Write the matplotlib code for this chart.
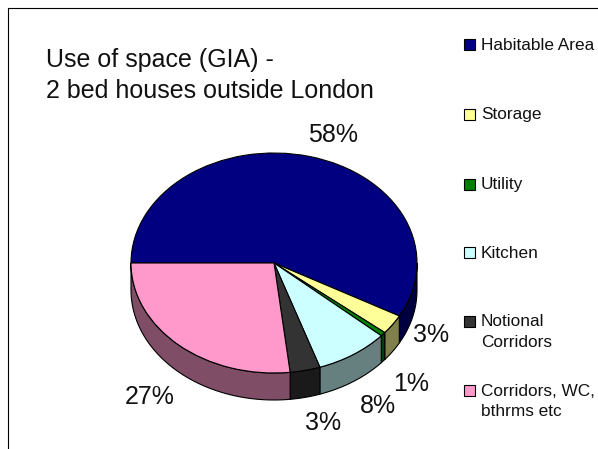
#!/usr/bin/env python3
import numpy as np
import matplotlib
matplotlib.use('Agg')
import matplotlib.pyplot as plt
from matplotlib.patches import Rectangle
from matplotlib.colors import to_rgb

plt.rcParams['font.family'] = ['Liberation Sans', 'DejaVu Sans']

W, H = 598, 449

# data
labels = ['Habitable Area', 'Storage', 'Utility', 'Kitchen',
          'Notional\nCorridors', 'Corridors, WC,\nbthrms etc']
values = [58.0, 2.9, 0.6, 8.3, 3.4, 26.8]
colors = ['#000080', '#FFFF99', '#008000', '#CCFFFF', '#333333', '#FF99CC']

# pixel layout
cx, cy, rx, ry, depth = 274, 263, 143, 110, 27
pct_pos = [(333, 135), (431, 335), (411, 384), (378, 406), (323, 423), (150, 397)]
legend_y = [44, 114, 184, 252, 321, 390]

fig = plt.figure(figsize=(W / 100, H / 100), dpi=100, facecolor='white')

# background layer in pixel coords: frame, legend
bg = fig.add_axes([0, 0, 1, 1])
bg.set_xlim(0, W)
bg.set_ylim(H, 0)
bg.axis('off')
bg.plot([7.5, 7.5, W], [H, 7.5, 7.5], color='black', lw=0.8)

# title
bg.text(46, 60, 'Use of space (GIA) -', fontsize=18, va='center', ha='left', color='#111111')
bg.text(46, 91.5, '2 bed houses outside London', fontsize=18, va='center', ha='left', color='#111111')

for y, lab, col in zip(legend_y, labels, colors):
    bg.add_patch(Rectangle((464, y - 5.5), 11, 11, facecolor=col, edgecolor='black', lw=0.8))
    bg.text(481, y - 6.5, lab, fontsize=12.4, va='top', ha='left', linespacing=1.42, color='#111111')

for (x, y), v in zip(pct_pos, values):
    bg.text(x, y, f'{v:.0f}%', fontsize=18, va='center', ha='center', color='#111111')

# pie axes: unit circle stretched to ellipse
dy = depth / ry
ax = fig.add_axes([(cx - rx) / W, (H - cy - ry - depth) / H, 2 * rx / W, (2 * ry + depth) / H])
ax.pie(values, colors=colors, startangle=180, counterclock=False, radius=1,
       wedgeprops=dict(edgecolor='black', linewidth=0.8, zorder=3))

# side walls, only the front half of the rim shows
edges = 180 - np.cumsum([0] + values) * 3.6
for a0, a1, col in zip(edges[:-1], edges[1:], colors):
    lo, hi = max(a1, -180), min(a0, 0)
    if hi <= lo:
        continue
    t = np.radians(np.linspace(hi, lo, 60))
    x = np.cos(t)
    y = np.sin(t)
    side = tuple(c * 0.5 for c in to_rgb(col))
    ax.fill(np.r_[x, x[::-1]], np.r_[y, y[::-1] - dy], facecolor=side,
            edgecolor='black', linewidth=0.8, zorder=2)

ax.set_aspect('auto')
ax.set_xlim(-1, 1)
ax.set_ylim(-1 - dy, 1)
ax.axis('off')
for art in ax.get_children():
    art.set_clip_on(False)

fig.savefig('out.png', dpi=100, facecolor='white')
